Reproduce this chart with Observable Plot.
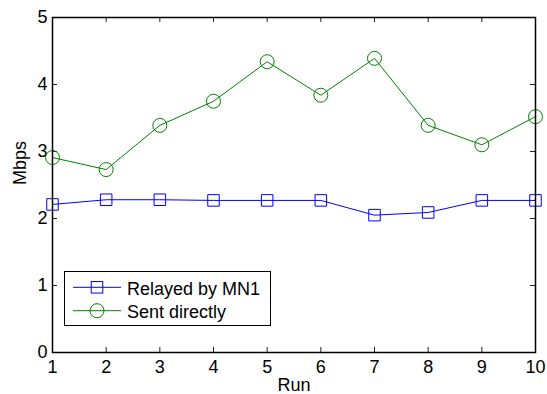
<!DOCTYPE html>
<html><head><meta charset="utf-8">
<script src="https://cdn.jsdelivr.net/npm/d3@7"></script>
<script src="https://cdn.jsdelivr.net/npm/@observablehq/plot@0.6"></script>
<style>
body{margin:0;background:#fff;}
#wrap{position:relative;width:547px;height:394px;font-family:"Liberation Sans",Arial,sans-serif;}
#legend{position:absolute;left:64px;top:271px;}
</style>
</head><body><div id="wrap"></div>
<script>
const runs = [1, 2, 3, 4, 5, 6, 7, 8, 9, 10];
const relayed = [2.21, 2.28, 2.28, 2.27, 2.27, 2.27, 2.05, 2.09, 2.27, 2.27];
const direct = [2.91, 2.73, 3.39, 3.75, 4.34, 3.84, 4.39, 3.39, 3.10, 3.52];
const seriesNames = ["Relayed by MN1", "Sent directly"];
const xTicks = [1, 2, 3, 4, 5, 6, 7, 8, 9, 10];
const yTicks = [0, 1, 2, 3, 4, 5];
const xLabel = "Run";
const yLabel = "Mbps";
const colors = ["#0000ff", "#008000"];

const relData = runs.map((r, i) => ({run: r, v: relayed[i]}));
const dirData = runs.map((r, i) => ({run: r, v: direct[i]}));

const W = 547, H = 394, mL = 52, mR = 12, mT = 17, mB = 42;
const iw = W - mL - mR, ih = H - mT - mB;
const FONT = '"Liberation Sans", Arial, sans-serif';

const chart = Plot.plot({
  width: W, height: H,
  marginLeft: mL, marginRight: mR, marginTop: mT, marginBottom: mB,
  style: {fontFamily: FONT, fontSize: "18px", color: "black", background: "white"},
  x: {domain: [1, 10]},
  y: {domain: [0, 5]},
  marks: [
    Plot.axisX(xTicks, {tickSize: 0, tickPadding: 8, label: null, tickFormat: d => String(d)}),
    Plot.axisY(yTicks, {tickSize: 0, tickPadding: 5, label: null, tickFormat: d => String(d)}),
    Plot.tickX(xTicks, {x: d => d, insetTop: ih - 5, stroke: "#222"}),
    Plot.tickX(xTicks, {x: d => d, insetBottom: ih - 5, stroke: "#222"}),
    Plot.tickY(yTicks, {y: d => d, insetRight: iw - 5, stroke: "#222"}),
    Plot.tickY(yTicks, {y: d => d, insetLeft: iw - 5, stroke: "#222"}),
    Plot.line(relData, {x: "run", y: "v", stroke: colors[0], strokeWidth: 1}),
    Plot.dot(relData, {x: "run", y: "v", symbol: "square", r: 6.5, stroke: colors[0], strokeWidth: 1}),
    Plot.line(dirData, {x: "run", y: "v", stroke: colors[1], strokeWidth: 1}),
    Plot.dot(dirData, {x: "run", y: "v", symbol: "circle", r: 7, stroke: colors[1], strokeWidth: 1}),
    Plot.frame({stroke: "black", strokeWidth: 1.5}),
    Plot.text([xLabel], {text: d => d, frameAnchor: "bottom", dy: 38, fontSize: 18}),
    Plot.text([yLabel], {text: d => d, frameAnchor: "left", dx: -32, rotate: -90, fontSize: 18})
  ]
});
const wrap = document.getElementById("wrap");
wrap.appendChild(chart);

// legend
const lg = d3.create("svg").attr("id", "legend").attr("width", 207).attr("height", 55)
  .style("font-family", FONT).style("font-size", "18px");
lg.append("rect").attr("x", 0.5).attr("y", 0.5).attr("width", 206).attr("height", 54)
  .attr("fill", "white").attr("stroke", "black").attr("stroke-width", 1);
const rows = [16.3, 39.7];
const baselines = [23.5, 46.5];
seriesNames.forEach((name, i) => {
  lg.append("line").attr("x1", 9).attr("x2", 57).attr("y1", rows[i]).attr("y2", rows[i])
    .attr("stroke", colors[i]).attr("stroke-width", 1);
  if (i === 0) {
    lg.append("rect").attr("x", 33 - 5.75).attr("y", rows[i] - 5.75).attr("width", 11.5).attr("height", 11.5)
      .attr("fill", "none").attr("stroke", colors[i]);
  } else {
    lg.append("circle").attr("cx", 33).attr("cy", rows[i]).attr("r", 7)
      .attr("fill", "none").attr("stroke", colors[i]);
  }
  lg.append("text").attr("x", 63).attr("y", baselines[i]).text(name);
});
wrap.appendChild(lg.node());
</script>
</body></html>
